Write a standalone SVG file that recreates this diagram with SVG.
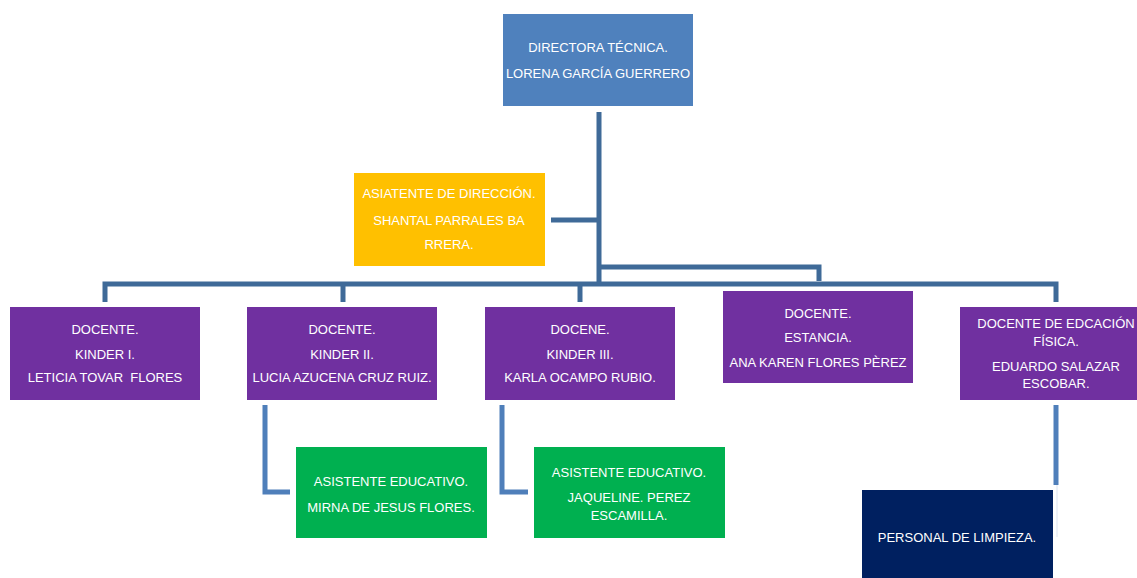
<svg xmlns="http://www.w3.org/2000/svg" width="1137" height="578" viewBox="0 0 1137 578">
<style>
text{font-family:"Liberation Sans",Arial,sans-serif;font-size:13px;fill:#ffffff;text-anchor:middle}
.bus{fill:none;stroke:#3F6A98;stroke-width:5}
.sub{fill:none;stroke:#4F7FBA;stroke-width:5}
</style>
<rect width="1137" height="578" fill="#ffffff"/>
<g id="connectors">
<path class="bus" d="M599 112V285"/>
<path class="bus" d="M598 220H551"/>
<path class="bus" d="M105 302V284H1056V302"/>
<path class="bus" d="M343 284V302"/>
<path class="bus" d="M580 284V302"/>
<path class="bus" d="M599 267H819V281"/>
<path class="sub" d="M265 405V492H290"/>
<path class="sub" d="M502 405V492H528"/>
<path class="sub" d="M1056 405V485"/>
<path d="M1057 485V537" stroke="#DCE4F0" stroke-width="1" fill="none"/>
</g>
<g id="directora">
<rect x="503" y="14" width="190" height="92" fill="#4F81BD"/>
<text x="598" y="52">DIRECTORA TÉCNICA.</text>
<text x="598" y="78">LORENA GARCÍA GUERRERO</text>
</g>
<g id="asistente-direccion">
<rect x="354" y="173" width="191" height="93" fill="#FFC000"/>
<text x="449" y="198">ASIATENTE DE DIRECCIÓN.</text>
<text x="449" y="225">SHANTAL PARRALES BA</text>
<text x="449" y="249">RRERA.</text>
</g>
<g id="kinder1">
<rect x="10" y="307" width="190" height="93" fill="#7030A0"/>
<text x="105" y="334">DOCENTE.</text>
<text x="105" y="359">KINDER I.</text>
<text x="105" y="382">LETICIA TOVAR&#160; FLORES</text>
</g>
<g id="kinder2">
<rect x="247" y="307" width="190" height="93" fill="#7030A0"/>
<text x="342" y="334">DOCENTE.</text>
<text x="342" y="359">KINDER II.</text>
<text x="342" y="382">LUCIA AZUCENA CRUZ RUIZ.</text>
</g>
<g id="kinder3">
<rect x="485" y="307" width="190" height="93" fill="#7030A0"/>
<text x="580" y="334">DOCENE.</text>
<text x="580" y="359">KINDER III.</text>
<text x="580" y="382">KARLA OCAMPO RUBIO.</text>
</g>
<g id="estancia">
<rect x="723" y="291" width="190" height="92" fill="#7030A0"/>
<text x="818" y="318">DOCENTE.</text>
<text x="818" y="342">ESTANCIA.</text>
<text x="818" y="367">ANA KAREN FLORES PÈREZ</text>
</g>
<g id="educacion-fisica">
<rect x="960" y="307" width="190" height="93" fill="#7030A0"/>
<text x="1056" y="328">DOCENTE DE EDCACIÓN</text>
<text x="1056" y="346">FÍSICA.</text>
<text x="1056" y="371">EDUARDO SALAZAR</text>
<text x="1056" y="388">ESCOBAR.</text>
</g>
<g id="asistente1">
<rect x="296" y="447" width="191" height="91" fill="#00B050"/>
<text x="391" y="486">ASISTENTE EDUCATIVO.</text>
<text x="391" y="512">MIRNA DE JESUS FLORES.</text>
</g>
<g id="asistente2">
<rect x="534" y="447" width="191" height="91" fill="#00B050"/>
<text x="629" y="477">ASISTENTE EDUCATIVO.</text>
<text x="629" y="502">JAQUELINE. PEREZ</text>
<text x="629" y="520">ESCAMILLA.</text>
</g>
<g id="limpieza">
<rect x="862" y="490" width="191" height="95" fill="#002060"/>
<text x="957" y="542">PERSONAL DE LIMPIEZA.</text>
</g>
</svg>
